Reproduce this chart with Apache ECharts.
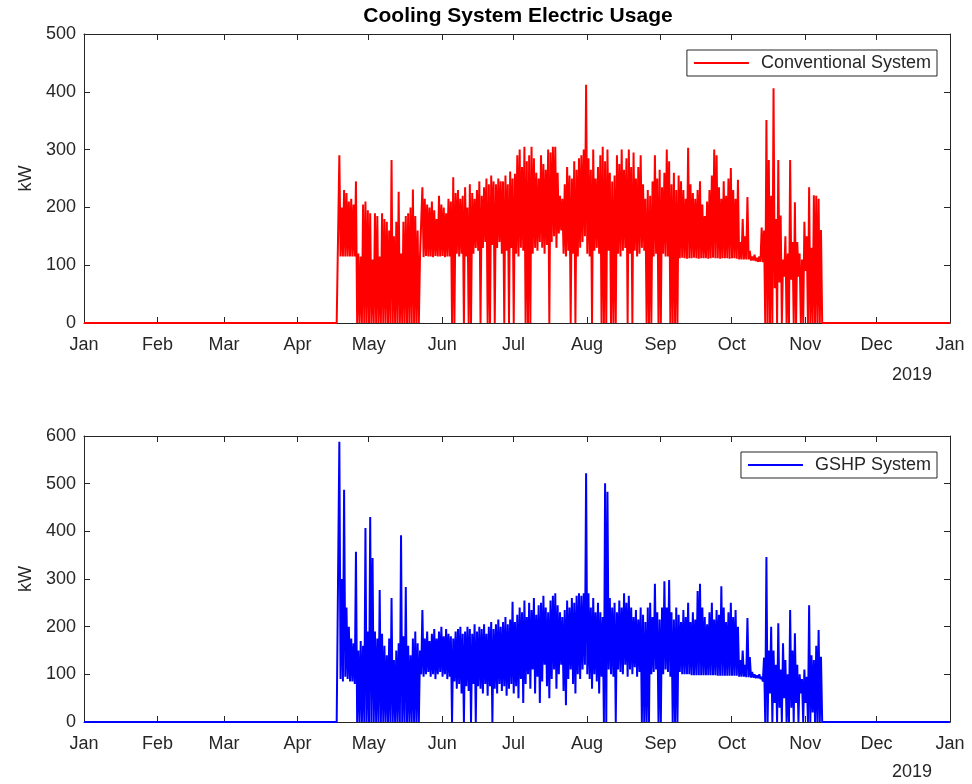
<!DOCTYPE html>
<html>
<head>
<meta charset="utf-8">
<script src="https://cdn.jsdelivr.net/npm/echarts@6/dist/echarts.min.js"></script>
<style>
html, body { margin: 0; padding: 0; background: #fff; }
#chart { width: 972px; height: 784px; }
</style>
</head>
<body>
<div id="chart"></div>
<script>
// Month tick labels along the date axis (Jan 2019 .. Jan 2020)
const monthLabels = ['Jan', 'Feb', 'Mar', 'Apr', 'May', 'Jun', 'Jul', 'Aug', 'Sep', 'Oct', 'Nov', 'Dec', 'Jan'];
const yearLabel = '2019';
const seriesNames = ['Conventional System', 'GSHP System'];

// Daily readings start on 18 Apr 2019; one value per day (night low, afternoon high), kW
const readingsStart = [2019, 3, 18];

const convHigh = [
  290,
  200, 230, 225, 210, 215, 205, 245,
  120, 115,
  205, 210, 195, 190, 110, 190, 185, 115, 190, 180, 175, 160, 282, 150, 175, 227, 120, 175, 185, 190, 200, 231, 185,
  160, 115,
  235, 215, 205, 200, 210, 195, 180, 220, 205, 200, 190, 215,
  210, 252, 225, 230, 215, 220, 235, 200, 240, 225, 215, 230, 245, 220, 235, 250, 240, 255, 245, 240, 250, 245,
  245, 255, 240, 262, 250, 258, 290, 300, 270, 305,
  280, 290, 305, 285, 260, 250, 290, 275, 265, 300,
  295, 305, 305, 260, 220, 215, 240, 270, 255, 250,
  280, 265, 285, 290, 300, 412, 285, 265, 300, 250,
  270, 290, 305, 280, 300, 260, 245, 255, 290, 275,
  300, 265, 285, 300, 270, 295, 250, 270, 290, 240,
  215, 230, 220, 245, 290, 250, 265, 235, 260, 300,
  280, 240, 260, 230, 255,
  245, 230, 215, 303, 240, 225, 215, 230, 245, 205,
  185, 210, 230, 255, 300, 290, 235, 215, 245, 220,
  250, 268, 230, 215, 248,
  140, 180, 150, 218, 125, 115, 118, 113, 115, 165,
  160, 351, 282, 220, 406, 180, 282, 186, 110, 150,
  120, 282, 140, 209, 140, 120, 110, 175, 150, 235,
  130, 221, 220, 215, 161
];
const convLow = [
  0,
  115, 115, 115, 115, 115, 115, 115,
  0, 0,
  0, 0, 0, 0, 0, 0, 0, 0, 0, 0, 0, 0, 0, 0, 0, 0, 0, 0, 0, 0, 0, 0, 0,
  0, 0,
  115, 114, 116, 115, 115, 114, 116, 115, 115, 116, 114, 115,
  115, 0, 0, 120, 115, 120, 0, 115, 0, 0, 120, 130, 125, 0, 130, 140, 0, 0, 135, 0, 130, 140,
  120, 0, 125, 0, 130, 0, 120, 115, 130, 125,
  0, 0, 0, 120, 130, 125, 140, 130, 120, 135,
  0, 140, 150, 130, 155, 160, 120, 115, 125, 0,
  120, 0, 115, 130, 140, 150, 120, 115, 0, 125,
  130, 120, 0, 0, 0, 125, 0, 0, 0, 120,
  115, 125, 130, 0, 120, 0, 125, 115, 120, 130,
  125, 0, 0, 0, 115, 120, 0, 0, 120, 115,
  115, 0, 0, 0, 0,
  112, 113, 112, 111, 112, 112, 113, 112, 111, 112,
  112, 112, 111, 112, 113, 112, 112, 111, 112, 112,
  112, 111, 112, 112, 111,
  110, 110, 110, 110, 110, 108, 108, 107, 106, 106,
  105, 0, 0, 0, 0, 60, 0, 70, 0, 80,
  0, 0, 75, 0, 0, 80, 0, 0, 90, 0,
  0, 0, 0, 0, 0
];

const gshpHigh = [
  588, 300, 487, 240, 200, 175, 165, 357, 150, 170,
  160, 407, 190, 430, 344, 190, 175, 277, 185, 160,
  140, 175, 260, 130, 150, 165, 392, 180, 283, 160,
  140, 175, 190, 165, 150, 235, 175, 190, 170, 185,
  195, 175, 190, 200, 180, 195, 185, 180, 175, 190,
  195, 200, 185, 190, 200, 195, 185, 205, 190, 200,
  195, 205, 185, 200, 210, 195, 205, 215, 200, 210,
  220, 205, 215, 252, 210, 225, 240, 230, 255, 220,
  250, 235, 260, 225, 245, 250, 265, 240, 230, 255,
  265, 270, 245, 230, 220, 235, 255, 240, 260, 250,
  265, 270, 265, 270, 522, 270, 240, 260, 230, 250,
  230, 220, 501, 483, 260, 240, 250, 230, 255, 240,
  270, 250, 265, 240, 220, 235, 215, 240, 225, 210,
  240, 250, 220, 290, 230, 215, 240, 295, 240, 298,
  230, 215, 240, 225, 210, 235, 220, 250, 210, 230,
  215, 275, 290, 240, 220, 205, 230, 250, 215, 235,
  225, 285, 240, 210, 230, 250, 220, 235, 200, 130,
  150, 120, 218, 136, 105, 100, 98, 100, 95, 135,
  346, 150, 200, 150, 120, 207, 110, 165, 130, 100,
  235, 150, 186, 120, 100, 90, 110, 95, 245, 140,
  130, 160, 193, 137
];
const gshpLow = [
  0, 90, 85, 95, 90, 85, 85, 80, 0, 0,
  0, 0, 0, 0, 0, 0, 0, 0, 0, 0,
  0, 0, 0, 0, 0, 0, 0, 0, 0, 0,
  0, 0, 0, 0, 0, 100, 95, 100, 105, 95,
  100, 90, 100, 105, 95, 100, 90, 95, 0, 85,
  70, 80, 60, 0, 75, 65, 0, 80, 0, 75,
  70, 60, 80, 55, 75, 0, 70, 60, 80, 65,
  75, 55, 70, 80, 60, 75, 50, 90, 40, 80,
  100, 70, 110, 60, 95, 40, 85, 120, 75, 50,
  90, 110, 70, 100, 120, 65, 35, 90, 110, 80,
  60, 100, 90, 110, 120, 100, 90, 70, 100, 85,
  60, 95, 0, 0, 110, 100, 95, 0, 110, 105,
  100, 120, 95, 110, 100, 115, 95, 105, 0, 0,
  0, 0, 100, 105, 110, 0, 0, 100, 110, 105,
  95, 0, 0, 0, 105, 100, 100, 100, 100, 98,
  98, 98, 98, 98, 98, 98, 98, 98, 98, 98,
  97, 97, 97, 97, 97, 97, 97, 97, 97, 95,
  95, 95, 94, 94, 93, 93, 92, 92, 90, 85,
  0, 0, 60, 0, 40, 0, 30, 0, 50, 0,
  0, 30, 0, 40, 0, 60, 0, 40, 0, 0,
  20, 0, 0, 0
];

const FONT = "'Liberation Sans', Arial, Helvetica, sans-serif";
const AXIS_COLOR = '#262626';
const TICK_FONT = 18;

const t = (y, m, d, h) => new Date(y, m, d, h || 0).getTime();
const axisMin = t(2019, 0, 1);
const axisMax = t(2020, 0, 1);
const monthTicks = monthLabels.map((_, i) => t(2019, i, 1));

// Zero outside the cooling season, a night low and an afternoon high for each day in season
function buildSeries(high, low) {
  const [y, m, d] = readingsStart;
  const pts = [[axisMin, 0], [t(y, m, d - 1, 12), 0]];
  for (let i = 0; i < high.length; i++) {
    pts.push([t(y, m, d + i, 3), low[i]]);
    pts.push([t(y, m, d + i, 15), high[i]]);
  }
  pts.push([t(y, m, d + high.length, 3), 0]);
  pts.push([t(2019, 11, 31, 23), 0]);
  return pts;
}

function monthLabel(value) {
  let best = 0;
  for (let i = 1; i < monthTicks.length; i++) {
    if (Math.abs(monthTicks[i] - value) < Math.abs(monthTicks[best] - value)) best = i;
  }
  return monthLabels[best];
}

function xAxes(gridIndex) {
  const common = {
    gridIndex, type: 'value', min: axisMin, max: axisMax,
    splitLine: { show: false },
    axisLine: { show: true, onZero: false, lineStyle: { color: AXIS_COLOR, width: 1 } },
    axisTick: { show: true, inside: true, length: 6, customValues: monthTicks, lineStyle: { color: AXIS_COLOR } }
  };
  return [
    Object.assign({}, common, {
      position: 'bottom',
      axisLabel: { show: true, customValues: monthTicks, formatter: monthLabel, margin: 13,
        fontFamily: FONT, fontSize: TICK_FONT, color: AXIS_COLOR, hideOverlap: false }
    }),
    Object.assign({}, common, { position: 'top', axisLabel: { show: false } })
  ];
}

function yAxes(gridIndex, max) {
  const common = {
    gridIndex, type: 'value', min: 0, max, interval: 100,
    splitLine: { show: false },
    axisLine: { show: true, onZero: false, lineStyle: { color: AXIS_COLOR, width: 1 } },
    axisTick: { show: true, inside: true, length: 6, lineStyle: { color: AXIS_COLOR } }
  };
  return [
    Object.assign({}, common, {
      position: 'left', name: 'kW', nameLocation: 'middle', nameGap: 46, nameRotate: 90,
      nameTextStyle: { fontFamily: FONT, fontSize: TICK_FONT, color: AXIS_COLOR },
      axisLabel: { fontFamily: FONT, fontSize: TICK_FONT, color: AXIS_COLOR, margin: 8 }
    }),
    Object.assign({}, common, { position: 'right', axisLabel: { show: false } })
  ];
}

function legendBox(name, top, color) {
  return {
    data: [{ name, icon: 'rect', itemStyle: { color } }], top, right: 35, orient: 'horizontal',
    backgroundColor: '#fff', borderColor: AXIS_COLOR, borderWidth: 1, borderRadius: 0,
    padding: [4, 6, 4, 7], itemWidth: 55, itemHeight: 2, itemGap: 4,
    textStyle: { fontFamily: FONT, fontSize: TICK_FONT, color: AXIS_COLOR, padding: [0, 0, 0, 7] },
    selectedMode: false
  };
}

const chart = echarts.init(document.getElementById('chart'), null, { renderer: 'canvas' });
chart.setOption({
  animation: false,
  backgroundColor: '#fff',
  grid: [
    { left: 84, right: 22, top: 34, height: 289 },
    { left: 84, right: 22, top: 436, height: 286 }
  ],
  xAxis: xAxes(0).concat(xAxes(1)),
  yAxis: yAxes(0, 500).concat(yAxes(1, 600)),
  legend: [legendBox(seriesNames[0], 50, '#ff0000'), legendBox(seriesNames[1], 452, '#0000ff')],
  series: [
    {
      name: seriesNames[0], type: 'line', xAxisIndex: 0, yAxisIndex: 0,
      data: buildSeries(convHigh, convLow), showSymbol: false, symbol: 'none',
      lineStyle: { color: '#ff0000', width: 2 }, itemStyle: { color: '#ff0000' },
      clip: true
    },
    {
      name: seriesNames[1], type: 'line', xAxisIndex: 2, yAxisIndex: 2,
      data: buildSeries(gshpHigh, gshpLow), showSymbol: false, symbol: 'none',
      lineStyle: { color: '#0000ff', width: 2 }, itemStyle: { color: '#0000ff' },
      clip: true
    }
  ],
  graphic: [
    { type: 'text', x: 518, y: 16, style: { text: 'Cooling System Electric Usage', align: 'center',
      verticalAlign: 'middle', font: 'bold 21px ' + FONT, fill: '#000' } },
    { type: 'text', x: 912, y: 375, style: { text: yearLabel, align: 'center', verticalAlign: 'middle',
      font: TICK_FONT + 'px ' + FONT, fill: AXIS_COLOR } },
    { type: 'text', x: 912, y: 772, style: { text: yearLabel, align: 'center', verticalAlign: 'middle',
      font: TICK_FONT + 'px ' + FONT, fill: AXIS_COLOR } }
  ]
});
</script>
</body>
</html>
